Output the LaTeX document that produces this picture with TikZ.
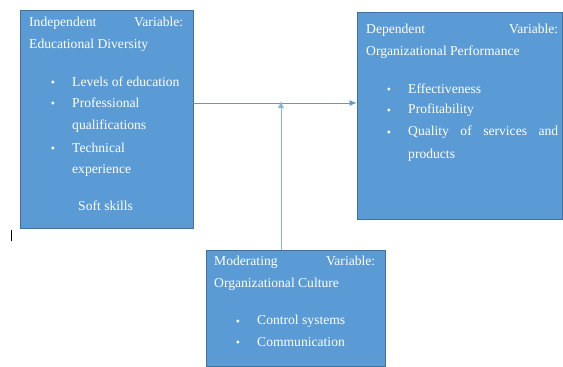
\documentclass[tikz,border=0pt]{standalone}
\usepackage{fontspec}
\setmainfont{Liberation Serif}
\usetikzlibrary{arrows.meta}
\definecolor{boxfill}{HTML}{5B9BD5}
\definecolor{boxline}{HTML}{41719C}
\definecolor{linkcol}{HTML}{5B9BD5}
\begin{document}
\begin{tikzpicture}[x=1pt,y=-1pt,
  varbox/.style={draw=boxline, line width=0.8pt, fill=boxfill, inner sep=0pt},
  txt/.style={text=white, anchor=west, inner sep=0pt, font=\fontsize{13.6}{16}\selectfont},
  head/.style={txt, text width=#1, align=left},
  bul/.style={text=white, inner sep=0pt, yshift=-1.5pt, font=\fontsize{12}{12}\selectfont},
  link/.style={draw=linkcol, line width=0.8pt, -{Latex[length=7pt,width=6pt]}}]
\useasboundingbox (0,0) rectangle (563,367);

% boxes
\node[varbox, minimum width=173pt, minimum height=218pt] (lbox) at (106.5,119) {};
\node[varbox, minimum width=205pt, minimum height=207pt] (rbox) at (459.5,115.5) {};
\node[varbox, minimum width=179pt, minimum height=116pt] (mbox) at (295.5,308) {};

% independent variable
\node[head=154pt] (l1) at (29,23) {Independent\hfill Variable:};
\node[txt] (l2) at (29,45) {Educational Diversity};
\foreach \yy/\tt [count=\i] in {82/Levels of education,103/Professional,126/qualifications,148/Technical,170/experience}{
  \node[txt] (li\i) at (72,\yy) {\tt};}
\foreach \yy [count=\i] in {82,103,148}{\node[bul] (lb\i) at (53,\yy) {\textbullet};}
\node[txt] (l3) at (78,206) {Soft skills};

% dependent variable
\node[head=192pt] (r1) at (366,30) {Dependent\hfill Variable:};
\node[txt] (r2) at (366,52) {Organizational Performance};
\foreach \yy/\tt [count=\i] in {89/Effectiveness,110/Profitability,155/products}{
  \node[txt] (ri\i) at (408,\yy) {\tt};}
\node[head=150pt] (rq) at (408,132) {Quality\hfill of\hfill services\hfill and};
\foreach \yy [count=\i] in {89,110,132}{\node[bul] (rb\i) at (389,\yy) {\textbullet};}

% moderating variable
\node[head=161pt] (m1) at (214,262) {Moderating\hfill Variable:};
\node[txt] (m2) at (214,284) {Organizational Culture};
\node[txt] (mi1) at (257,321) {Control systems};
\node[txt] (mi2) at (257,342) {Communication};
\foreach \yy [count=\i] in {321,342}{\node[bul] (mb\i) at (238,\yy) {\textbullet};}

% connectors
\coordinate (hjoin) at (281,103);
\draw[link] (lbox.east |- hjoin) -- (rbox.west |- hjoin);
\draw[link, draw=linkcol!75] (mbox.north -| hjoin) -- ([yshift=2pt]hjoin);

% text cursor
\draw[line width=0.9pt] (11,230) -- (11,241);
\end{tikzpicture}
\end{document}
